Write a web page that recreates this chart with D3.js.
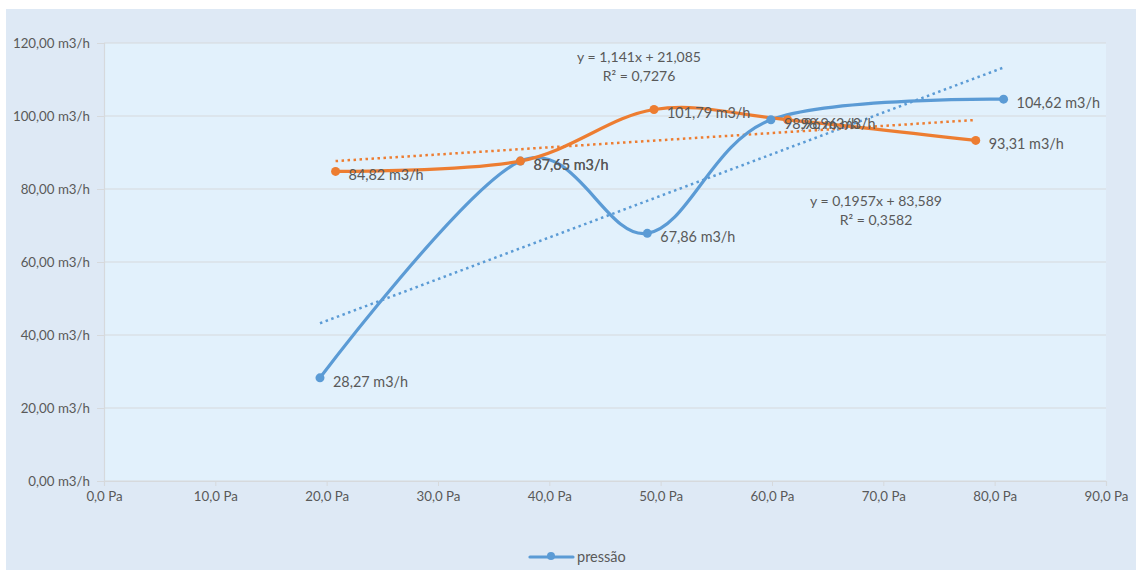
<!DOCTYPE html>
<html>
<head>
<meta charset="utf-8">
<script src="https://cdn.jsdelivr.net/npm/d3@7"></script>
<style>
  html, body { margin: 0; padding: 0; background: #ffffff; }
  svg { display: block; }
  text { font-family: Lato, "Open Sans", "Noto Sans", sans-serif; fill: #595959; }
</style>
</head>
<body>
<svg id="chart" width="1136" height="570"></svg>
<script>
// Pressure (Pa) vs. flow (m3/h), two measurement series
const pressaoX = [19.4, 37.4, 48.8, 59.9, 80.8];
const pressaoY = [28.27, 87.65, 67.86, 98.96, 104.62];
const serie2X = [20.8, 37.4, 49.4, 61.4, 78.3];
const serie2Y = [84.82, 87.65, 101.79, 98.96, 93.31];

// Linear trendline coefficients
const trendPressao = { slope: 1.141, intercept: 21.085, r2: "0,7276", eq: "y = 1,141x + 21,085" };
const trendSerie2 = { slope: 0.1957, intercept: 83.589, r2: "0,3582", eq: "y = 0,1957x + 83,589" };

const xTicks = [0, 10, 20, 30, 40, 50, 60, 70, 80, 90];
const yTicks = [0, 20, 40, 60, 80, 100, 120];
const legendLabel = "pressão";

const blue = "#5b9bd5";
const orange = "#ed7d31";

const svg = d3.select("#chart");

// outer chart panel
svg.append("rect").attr("x", 6).attr("y", 9).attr("width", 1130).attr("height", 561).attr("fill", "#dee9f5");

const x = d3.scaleLinear().domain([0, 90]).range([104, 1106]);
const y = d3.scaleLinear().domain([0, 120]).range([481, 43]);

// plot area
svg.append("rect").attr("x", x(0)).attr("y", y(120)).attr("width", x(90) - x(0)).attr("height", y(0) - y(120)).attr("fill", "#e2f1fc");

const fmtY = v => d3.format(".2f")(v).replace(".", ",") + " m3/h";
const fmtX = v => d3.format(".1f")(v).replace(".", ",") + " Pa";

// horizontal gridlines
svg.append("g").selectAll("line").data(yTicks).join("line")
  .attr("x1", x(0)).attr("x2", x(90))
  .attr("y1", d => y(d)).attr("y2", d => y(d))
  .attr("stroke", "#d6d9dc").attr("stroke-width", 1.2);

// y axis
const yAxis = svg.append("g").attr("transform", `translate(${x(0)},0)`)
  .call(d3.axisLeft(y).tickValues(yTicks).tickFormat(fmtY).tickSize(7).tickPadding(7));
yAxis.select(".domain").attr("stroke", "#d6d9dc").attr("stroke-width", 1.2);
yAxis.selectAll(".tick line").attr("stroke", "#d6d9dc");
yAxis.selectAll("text").style("font-size", "13.3px").attr("fill", "#595959");

// x axis
const xAxis = svg.append("g").attr("transform", `translate(0,${y(0)})`)
  .call(d3.axisBottom(x).tickValues(xTicks).tickFormat(fmtX).tickSize(5).tickPadding(6));
xAxis.select(".domain").attr("stroke", "#d6d9dc").attr("stroke-width", 1.2);
xAxis.selectAll(".tick line").attr("stroke", "#d6d9dc");
xAxis.selectAll("text").style("font-size", "13.3px").attr("fill", "#595959");

// trendlines (dotted)
function trendline(xs, t, color) {
  const x0 = d3.min(xs), x1 = d3.max(xs);
  svg.append("line")
    .attr("x1", x(x0)).attr("y1", y(t.slope * x0 + t.intercept))
    .attr("x2", x(x1)).attr("y2", y(t.slope * x1 + t.intercept))
    .attr("stroke", color).attr("stroke-width", 2.5)
    .attr("stroke-dasharray", "2.5,3.5");
}
trendline(pressaoX, trendPressao, blue);
trendline(serie2X, trendSerie2, orange);

// smoothed series lines
const line = d3.line().x(d => x(d[0])).y(d => y(d[1])).curve(d3.curveCardinal.tension(0));
const pressao = d3.zip(pressaoX, pressaoY);
const serie2 = d3.zip(serie2X, serie2Y);

svg.append("path").datum(pressao).attr("d", line)
  .attr("fill", "none").attr("stroke", blue).attr("stroke-width", 3.2).attr("stroke-linecap", "round");
svg.append("path").datum(serie2).attr("d", line)
  .attr("fill", "none").attr("stroke", orange).attr("stroke-width", 3.2).attr("stroke-linecap", "round");

// markers
svg.append("g").selectAll("circle").data(pressao).join("circle")
  .attr("cx", d => x(d[0])).attr("cy", d => y(d[1])).attr("r", 4.5).attr("fill", blue);
svg.append("g").selectAll("circle").data(serie2).join("circle")
  .attr("cx", d => x(d[0])).attr("cy", d => y(d[1])).attr("r", 4.5).attr("fill", orange);

// data labels
function labels(data) {
  svg.append("g").selectAll("text").data(data).join("text")
    .attr("x", d => x(d[0]) + 13).attr("y", d => y(d[1]) + 9)
    .style("font-size", "14.4px").attr("fill", "#404040")
    .text(d => fmtY(d[1]));
}
labels(pressao);
labels(serie2);

// trendline equations
function equation(t, cx, cy) {
  const g = svg.append("g").attr("text-anchor", "middle").style("font-size", "14px");
  g.append("text").attr("x", cx).attr("y", cy).text(t.eq);
  g.append("text").attr("x", cx).attr("y", cy + 19).text("R² = " + t.r2);
}
equation(trendPressao, 639, 62);
equation(trendSerie2, 876, 206);

// legend
const lg = svg.append("g");
lg.append("line").attr("x1", 530).attr("x2", 573).attr("y1", 557).attr("y2", 557)
  .attr("stroke", blue).attr("stroke-width", 3.2).attr("stroke-linecap", "round");
lg.append("circle").attr("cx", 551).attr("cy", 556).attr("r", 4).attr("fill", blue);
lg.append("text").attr("x", 577).attr("y", 562).style("font-size", "14.5px").text(legendLabel);
</script>
</body>
</html>
